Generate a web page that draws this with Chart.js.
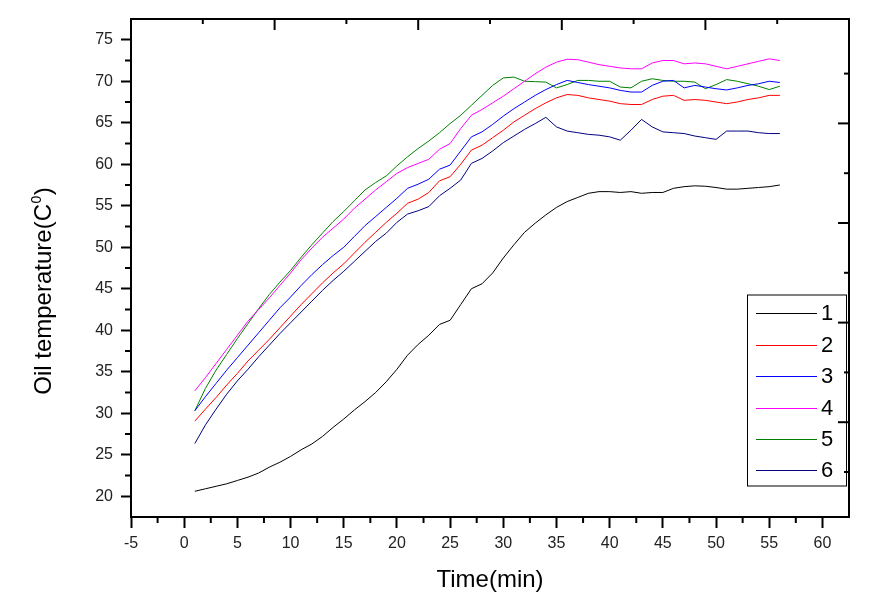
<!DOCTYPE html>
<html>
<head>
<meta charset="utf-8">
<script src="https://cdn.jsdelivr.net/npm/chart.js@4.4.0/dist/chart.umd.min.js"></script>
<style>
  html, body { margin: 0; padding: 0; background: #ffffff; }
  #wrap { width: 891px; height: 609px; }
</style>
</head>
<body>
<div id="wrap"><canvas id="c" width="891" height="609"></canvas></div>
<script>
// ---------- data ----------
const times = [1,2,3,4,5,6,7,8,9,10,11,12,13,14,15,16,17,18,19,20,21,22,23,24,25,26,27,28,29,30,
               31,32,33,34,35,36,37,38,39,40,41,42,43,44,45,46,47,48,49,50,51,52,53,54,55,56];
const series1 = [20.6,20.9,21.2,21.5,21.9,22.3,22.8,23.5,24.1,24.8,
                 25.6,26.3,27.2,28.3,29.3,30.4,31.4,32.5,33.8,35.3,
                 37.0,38.3,39.4,40.7,41.2,43.1,45.0,45.6,46.9,48.7,
                 50.3,51.8,52.9,53.9,54.8,55.5,56.0,56.5,56.7,56.7,
                 56.6,56.7,56.5,56.6,56.6,57.1,57.3,57.4,57.35,57.2,
                 57.0,57.0,57.1,57.2,57.3,57.5];
const series2 = [29.05,30.5,31.9,33.4,34.8,36.3,37.6,38.9,40.3,41.7,
                 43.1,44.4,45.7,46.9,48.0,49.3,50.6,51.8,53.0,54.1,
                 55.3,55.8,56.6,58.0,58.5,60.0,61.7,62.3,63.2,64.1,
                 65.1,65.9,66.7,67.4,68.0,68.4,68.3,68.0,67.8,67.6,
                 67.3,67.2,67.2,67.8,68.2,68.3,67.7,67.8,67.7,67.5,
                 67.3,67.5,67.8,68.0,68.3,68.3];
const series3 = [30.3,32.0,33.6,35.2,36.7,38.2,39.7,41.2,42.7,44.0,
                 45.4,46.7,47.9,49.0,50.0,51.3,52.6,53.7,54.8,55.9,
                 57.1,57.6,58.2,59.4,59.9,61.6,63.3,63.9,64.8,65.8,
                 66.7,67.5,68.3,69.0,69.6,70.1,69.85,69.6,69.4,69.2,
                 68.9,68.7,68.7,69.5,70.0,70.1,69.2,69.5,69.3,69.1,
                 68.95,69.2,69.5,69.7,70.0,69.85];
const series4 = [32.7,34.3,36.0,37.7,39.4,41.1,42.5,43.9,45.4,46.9,
                 48.5,49.9,51.2,52.3,53.4,54.7,55.8,56.9,57.9,58.9,
                 59.6,60.1,60.6,61.8,62.5,64.3,65.9,66.6,67.4,68.2,
                 69.1,70.0,70.9,71.7,72.3,72.65,72.6,72.3,72.0,71.8,
                 71.6,71.5,71.5,72.2,72.5,72.5,72.1,72.2,72.1,71.8,
                 71.5,71.8,72.1,72.4,72.7,72.5];
const series5 = [30.3,33.0,35.2,37.1,39.0,40.8,42.6,44.3,45.8,47.2,
                 48.8,50.3,51.7,53.1,54.3,55.6,56.9,57.8,58.6,59.8,
                 60.9,61.9,62.8,63.8,64.9,65.9,67.1,68.3,69.5,70.4,
                 70.5,70.0,69.95,69.9,69.2,69.6,70.1,70.1,70.0,70.0,
                 69.3,69.2,70.0,70.3,70.1,70.0,70.0,69.9,69.1,69.6,
                 70.2,70.0,69.7,69.4,69.0,69.4];
const series6 = [26.35,28.6,30.5,32.3,33.9,35.3,36.8,38.2,39.6,40.9,
                 42.2,43.5,44.8,46.0,47.1,48.3,49.5,50.7,51.7,53.0,
                 54.0,54.4,54.9,56.2,57.1,58.1,60.1,60.7,61.6,62.6,
                 63.4,64.2,64.9,65.65,64.5,64.0,63.8,63.6,63.5,63.3,
                 62.9,64.1,65.4,64.5,63.9,63.8,63.7,63.4,63.2,63.0,
                 64.0,64.0,64.0,63.8,63.7,63.7];
const seriesNames = ['1','2','3','4','5','6'];
const xTickValues = [-5,0,5,10,15,20,25,30,35,40,45,50,55,60];
const yTickValues = [20,25,30,35,40,45,50,55,60,65,70,75];
const xTitle = 'Time(min)';
const yTitleMain = 'Oil temperature(C';
const yTitleSup = '0';
const yTitleEnd = ')';

// ---------- styling ----------
const FONT = 'Arial, "Liberation Sans", sans-serif';
const colors = ['#000000', '#ff0000', '#0000ff', '#ff00ff', '#008000', '#000080'];
const allSeries = [series1, series2, series3, series4, series5, series6];

const datasets = allSeries.map((vals, i) => ({
  label: seriesNames[i],
  data: times.map((t, j) => ({ x: t, y: vals[j] })),
  borderColor: colors[i],
  backgroundColor: colors[i],
  borderWidth: 1,
  pointRadius: 0,
  tension: 0,
  fill: false
}));

function line(ctx, x1, y1, x2, y2) {
  ctx.beginPath(); ctx.moveTo(x1, y1); ctx.lineTo(x2, y2); ctx.stroke();
}

const framePlugin = {
  id: 'frame',
  afterDraw(chart) {
    const { ctx, chartArea: a, scales } = chart;
    const xs = scales.x, ys = scales.y;
    ctx.save();
    ctx.strokeStyle = '#000';
    ctx.lineWidth = 2;
    // top & right border
    ctx.beginPath();
    ctx.moveTo(a.left - 1, a.top);
    ctx.lineTo(a.right, a.top);
    ctx.lineTo(a.right, a.bottom + 1);
    ctx.stroke();
    // minor ticks bottom / left (midpoints of major ticks)
    for (let i = 0; i < xTickValues.length; i++) {
      const v = xTickValues[i] + 2.5;
      if (v < xs.max) { const p = xs.getPixelForValue(v); line(ctx, p, a.bottom, p, a.bottom + 6); }
    }
    for (let i = -1; i < yTickValues.length; i++) {
      const v = (i < 0 ? yTickValues[0] : yTickValues[i]) + (i < 0 ? -2.5 : 2.5);
      if (v > ys.min && v < ys.max) { const p = ys.getPixelForValue(v); line(ctx, a.left - 6, p, a.left, p); }
    }
    // top axis ticks (inward)
    const w = a.right - a.left;
    for (let k = 1; k < 10; k++) {
      const p = a.left + k * w / 10;
      line(ctx, p, a.top, p, a.top + (k % 2 === 0 ? 11 : 5));
    }
    // right axis ticks (inward)
    const h = a.bottom - a.top;
    const step = h / 10;
    for (let k = 0; k < 9; k++) {
      const p = a.bottom - 45 - k * step;
      line(ctx, a.right, p, a.right - (k % 2 === 1 ? 11 : 5), p);
    }
    ctx.restore();

    // y-axis title with superscript
    ctx.save();
    ctx.fillStyle = '#000';
    ctx.textBaseline = 'middle';
    ctx.textAlign = 'left';
    const bigFont = '24px ' + FONT, supFont = '14px ' + FONT;
    ctx.font = bigFont; const w1 = ctx.measureText(yTitleMain).width; const w3 = ctx.measureText(yTitleEnd).width;
    ctx.font = supFont; const w2 = ctx.measureText(yTitleSup).width;
    const total = w1 + w2 + 1 + w3;
    ctx.translate(44, 291);
    ctx.rotate(-Math.PI / 2);
    let x0 = -total / 2;
    ctx.font = bigFont; ctx.fillText(yTitleMain, x0, 0);
    ctx.font = supFont; ctx.fillText(yTitleSup, x0 + w1 + 0.5, -7);
    ctx.font = bigFont; ctx.fillText(yTitleEnd, x0 + w1 + w2 + 1, 0);
    ctx.restore();

    // legend box
    ctx.save();
    const lx = 747, ly = 294.5, lw = 99, lh = 191;
    ctx.strokeStyle = '#000'; ctx.lineWidth = 1;
    ctx.strokeRect(lx + 0.5, ly + 0.5, lw, lh);
    ctx.font = '22px ' + FONT;
    ctx.textBaseline = 'middle';
    ctx.textAlign = 'left';
    chart.data.datasets.forEach((ds, i) => {
      const yy = 313.3 + i * 31.4;
      ctx.strokeStyle = ds.borderColor; ctx.lineWidth = 1;
      line(ctx, 756, Math.round(yy) + 0.5, 817, Math.round(yy) + 0.5);
      ctx.fillStyle = '#000';
      ctx.fillText(ds.label, 821, yy + 1);
    });
    ctx.restore();
  }
};

new Chart(document.getElementById('c'), {
  type: 'line',
  data: { datasets },
  plugins: [framePlugin],
  options: {
    responsive: false,
    animation: false,
    devicePixelRatio: 1,
    layout: { padding: { left: 0, right: 42, top: 19, bottom: 0 } },
    plugins: { legend: { display: false }, tooltip: { enabled: false } },
    scales: {
      x: {
        type: 'linear',
        min: -5, max: 62.5,
        afterBuildTicks: s => { s.ticks = xTickValues.map(v => ({ value: v })); },
        afterFit: s => { s.height = 92; },
        grid: { drawOnChartArea: false, drawTicks: true, tickLength: 11, tickWidth: 2, tickColor: '#000' },
        border: { display: true, color: '#000', width: 2 },
        ticks: { color: '#222', font: { family: FONT, size: 16 }, padding: 6, maxRotation: 0, autoSkip: false },
        title: { display: true, text: xTitle, color: '#000', font: { family: FONT, size: 24 }, padding: { top: 0, bottom: 14 } }
      },
      y: {
        type: 'linear',
        min: 17.5, max: 77.5,
        afterBuildTicks: s => { s.ticks = yTickValues.map(v => ({ value: v })); },
        afterFit: s => { s.width = 131; },
        grid: { drawOnChartArea: false, drawTicks: true, tickLength: 10, tickWidth: 2, tickColor: '#000' },
        border: { display: true, color: '#000', width: 2 },
        ticks: { color: '#222', font: { family: FONT, size: 16 }, padding: 8, autoSkip: false }
      }
    }
  }
});
</script>
</body>
</html>
